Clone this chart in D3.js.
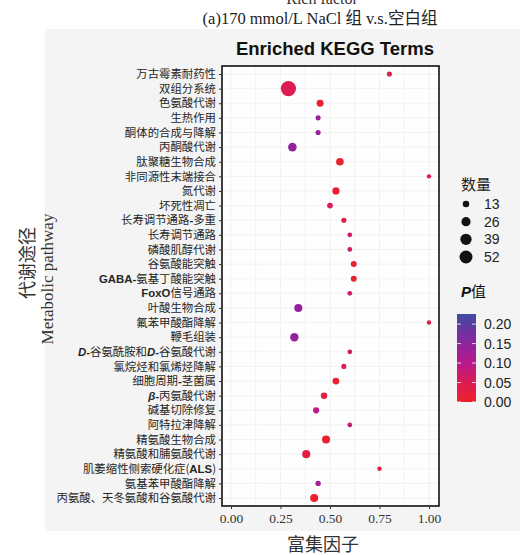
<!DOCTYPE html>
<html><head><meta charset="utf-8">
<script src="https://cdn.jsdelivr.net/npm/d3@7"></script>
<style>body{margin:0;background:#fff}svg{display:block}</style>
</head><body>
<svg id="c" width="520" height="555"></svg>
<script>
const categories = ["万古霉素耐药性","双组分系统","色氨酸代谢","生热作用","酮体的合成与降解","丙酮酸代谢","肽聚糖生物合成","非同源性末端接合","氮代谢","坏死性凋亡","长寿调节通路-多重","长寿调节通路","磷酸肌醇代谢","谷氨酸能突触","GABA-氨基丁酸能突触","FoxO信号通路","叶酸生物合成","氟苯甲酸酯降解","鞭毛组装","D-谷氨酰胺和D-谷氨酸代谢","氯烷烃和氯烯烃降解","细胞周期-茎菌属","β-丙氨酸代谢","碱基切除修复","阿特拉津降解","精氨酸生物合成","精氨酸和脯氨酸代谢","肌萎缩性侧索硬化症(ALS)","氨基苯甲酸酯降解","丙氨酸、天冬氨酸和谷氨酸代谢"];
const richFactor = [0.80,0.29,0.45,0.44,0.44,0.31,0.55,1.00,0.53,0.50,0.57,0.60,0.60,0.62,0.62,0.60,0.34,1.00,0.32,0.60,0.57,0.53,0.47,0.43,0.60,0.48,0.38,0.75,0.44,0.42];
const counts = [8,71,15,8,8,23,18,6,16,10,8,7,7,11,11,7,20,6,22,7,8,14,13,12,7,20,20,6,9,20];
const pValues = [0.04,0.05,0.01,0.14,0.14,0.145,0.01,0.04,0.015,0.05,0.04,0.07,0.07,0.01,0.01,0.07,0.14,0.04,0.145,0.07,0.05,0.01,0.03,0.10,0.08,0.005,0.03,0.04,0.13,0.005];
const xTicks = [0,0.25,0.5,0.75,1.0];
const sizeLegend = [13,26,39,52];
const colorTicks = [0,0.05,0.10,0.15,0.20];
const colorStops = [0,0.05,0.10,0.15,0.20,0.226];
const colorRange = ["#ee2229","#dc1c52","#b81a8c","#8e249e","#5a3c9f","#3d4ea0"];

const svg = d3.select("#c");
const serif = "'Liberation Serif','DejaVu Serif',serif";
const sans = "'Liberation Sans',Arial,sans-serif";
const cjk = "'Noto Sans CJK SC','Liberation Sans',sans-serif";

svg.append("rect").attr("x",45).attr("y",29).attr("width",475).attr("height",502).attr("fill","#f4f4f4");

svg.append("text").attr("x",322).attr("y",4).attr("text-anchor","middle").attr("font-family",serif).attr("font-size",16).attr("fill","#333").text("Rich factor");
svg.append("text").attr("x",320).attr("y",24).attr("text-anchor","middle").attr("font-family",serif+",'Noto Sans CJK SC'").attr("font-size",16.5).attr("fill","#222").text("(a)170 mmol/L  NaCl 组 v.s.空白组");
svg.append("text").attr("x",335).attr("y",55).attr("text-anchor","middle").attr("font-family",sans).attr("font-weight","bold").attr("font-size",18.5).attr("fill","#111").text("Enriched KEGG Terms");

const L=222,R=439,T=66,B=506;
const x = d3.scaleLinear().domain([0,1]).range([231,429]);
const y = d3.scalePoint().domain(categories).range([74,498]);
const r = d3.scaleSqrt().domain([0,52]).range([0,6.5]);
const color = d3.scaleLinear().domain(colorStops).range(colorRange).interpolate(d3.interpolateRgb);

svg.append("rect").attr("x",L).attr("y",T).attr("width",R-L).attr("height",B-T).attr("fill","#fefefe");
const grid = svg.append("g").attr("stroke","#efefef").attr("stroke-width",0.8);
d3.range(0,1.01,0.125).forEach(v=>grid.append("line").attr("x1",x(v)).attr("x2",x(v)).attr("y1",T).attr("y2",B));
categories.forEach(c=>grid.append("line").attr("x1",L).attr("x2",R).attr("y1",y(c)).attr("y2",y(c)));

svg.append("g").selectAll("circle").data(categories).join("circle")
  .attr("cx",(d,i)=>x(richFactor[i])).attr("cy",d=>y(d))
  .attr("r",(d,i)=>r(counts[i])).attr("fill",(d,i)=>color(pValues[i]));

svg.append("rect").attr("x",L).attr("y",T).attr("width",R-L).attr("height",B-T).attr("fill","none").attr("stroke","#111").attr("stroke-width",1.6);

const xa = svg.append("g").attr("transform",`translate(0,${B})`).call(d3.axisBottom(x).tickValues(xTicks).tickFormat(d3.format(".2f")).tickSize(3).tickPadding(4));
xa.select(".domain").remove();
xa.selectAll("line").attr("stroke","#333");
xa.selectAll("text").attr("font-family",serif).attr("font-size",13.5).attr("fill","#333");

const ya = svg.append("g").attr("transform",`translate(${L},0)`).call(d3.axisLeft(y).tickSize(3).tickPadding(3).tickFormat(()=>""));
ya.select(".domain").remove();
ya.selectAll("line").attr("stroke","#333");
ya.selectAll(".tick text").each(function(d){
  const t = d3.select(this).attr("font-family",cjk).attr("font-size",11.4).attr("fill","#262626");
  const parts = d.split(/(D-|β-|GABA-|FoxO|ALS|-)/).filter(s=>s.length);
  parts.forEach(p=>{
    const ts = t.append("tspan").text(p);
    if(p==="D-"||p==="β-"){ts.attr("font-family",sans).attr("font-weight","bold").attr("font-style","italic");}
    else if(/^[A-Za-z\-]+$/.test(p)){ts.attr("font-family",sans).attr("font-weight","bold");}
  });
});

svg.append("text").attr("x",323).attr("y",551).attr("text-anchor","middle").attr("font-family",serif+",'Noto Sans CJK SC'").attr("font-size",18).attr("fill","#333").text("富集因子");
svg.append("text").attr("transform","translate(34,263) rotate(-90)").attr("text-anchor","middle").attr("font-family",cjk).attr("font-size",18).attr("fill","#333").text("代谢途径");
svg.append("text").attr("transform","translate(53,279) rotate(-90)").attr("text-anchor","middle").attr("font-family",serif).attr("font-size",17).attr("fill","#333").text("Metabolic  pathway");

svg.append("text").attr("x",461).attr("y",190).attr("font-family",cjk).attr("font-size",15).attr("fill","#222").text("数量");
const sl = svg.append("g");
const ly = d3.scalePoint().domain(sizeLegend).range([204,257]);
sl.selectAll("circle").data(sizeLegend).join("circle").attr("cx",466).attr("cy",d=>ly(d)).attr("r",d=>r(d)).attr("fill","#111");
sl.selectAll("text").data(sizeLegend).join("text").attr("x",484).attr("y",d=>ly(d)+5).attr("font-family",sans).attr("font-size",14).attr("fill","#222").text(d=>d);

const pt = svg.append("text").attr("x",461).attr("y",297).attr("font-size",15).attr("fill","#111");
pt.append("tspan").attr("font-family",sans).attr("font-weight","bold").attr("font-style","italic").text("P");
pt.append("tspan").attr("font-family",cjk).text("值");
const cy = d3.scaleLinear().domain([0,0.226]).range([402,314]);
const defs = svg.append("defs");
const grad = defs.append("linearGradient").attr("id","g").attr("x1",0).attr("x2",0).attr("y1",1).attr("y2",0);
d3.range(0,1.001,0.05).forEach(t=>grad.append("stop").attr("offset",t).attr("stop-color",color(t*0.226)));
svg.append("rect").attr("x",457).attr("y",314).attr("width",19).attr("height",88).attr("fill","url(#g)");
const cl = svg.append("g");
colorTicks.forEach(v=>{
  cl.append("line").attr("x1",457).attr("x2",461).attr("y1",cy(v)).attr("y2",cy(v)).attr("stroke","#fff").attr("stroke-width",0.8);
  cl.append("line").attr("x1",472).attr("x2",476).attr("y1",cy(v)).attr("y2",cy(v)).attr("stroke","#fff").attr("stroke-width",0.8);
  cl.append("text").attr("x",484).attr("y",cy(v)+5).attr("font-family",sans).attr("font-size",14).attr("fill","#222").text(d3.format(".2f")(v));
});
</script>
</body></html>
